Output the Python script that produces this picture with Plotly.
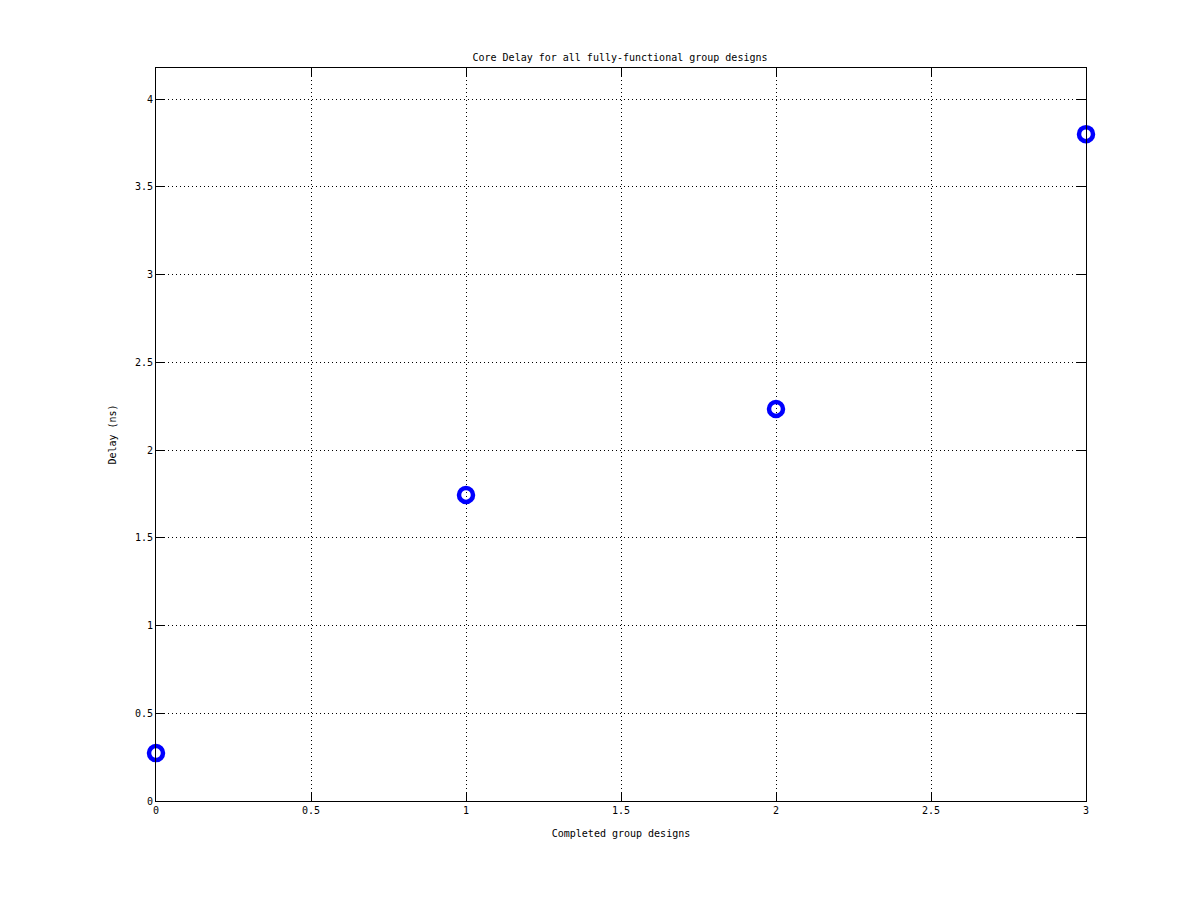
import plotly.graph_objects as go

designs = [0, 1, 2, 3]
delay_ns = [0.273, 1.744, 2.234, 3.80]
x_ticks = [0, 0.5, 1, 1.5, 2, 2.5, 3]
y_ticks = [0, 0.5, 1, 1.5, 2, 2.5, 3, 3.5, 4]

font = dict(family="DejaVu Sans Mono", size=10, color="black")

fig = go.Figure()
fig.add_trace(go.Scatter(
    x=designs, y=delay_ns, mode="markers",
    marker=dict(symbol="circle-open", size=14, color="#0000ff",
                line=dict(width=4.5, color="#0000ff")),
    cliponaxis=False, showlegend=False,
))

axis_common = dict(
    showline=True, linecolor="black", linewidth=1, mirror="ticks",
    ticks="inside", ticklen=9, tickcolor="black", tickwidth=1,
    showgrid=True, gridcolor="black", griddash="1px,3px", gridwidth=1,
    zeroline=False, tickfont=font,
)

fig.update_layout(
    width=1200, height=900,
    paper_bgcolor="white", plot_bgcolor="white",
    margin=dict(l=148, r=122, t=60, b=107),
    font=font,
    title=dict(text="Core Delay for all fully-functional group designs",
               x=0.51, xanchor="center", y=1 - 49 / 900, yanchor="middle",
               font=font),
    xaxis=dict(range=[0, 3], tickvals=x_ticks, ticktext=[str(v) for v in x_ticks],
               title=dict(text="Completed group designs", font=font, standoff=14),
               **axis_common),
    yaxis=dict(range=[0, 4.177], tickvals=y_ticks, ticktext=[str(v) for v in y_ticks],
               title=dict(text="Delay (ns)", font=font, standoff=16),
               **axis_common),
)

fig.write_html("out.html")
